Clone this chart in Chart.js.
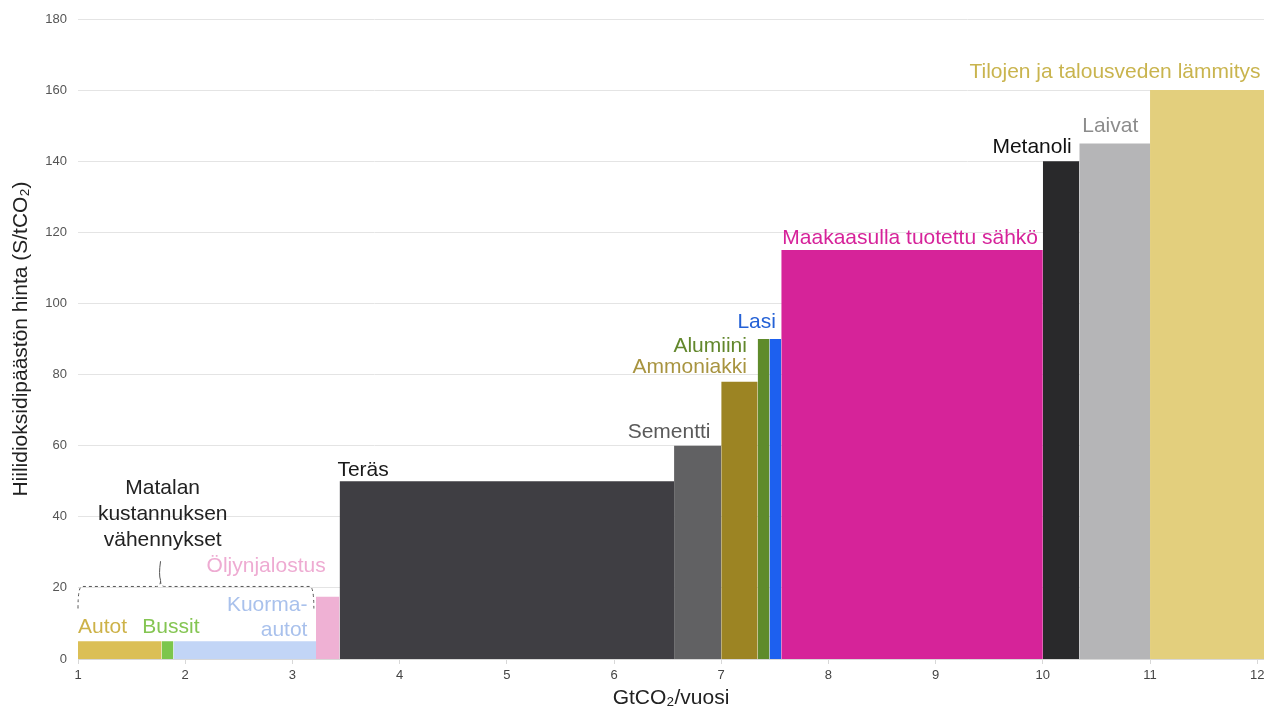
<!DOCTYPE html>
<html>
<head>
<meta charset="utf-8">
<script src="https://cdn.jsdelivr.net/npm/chart.js"></script>
<style>
  html, body { margin: 0; padding: 0; background: #fff; }
  #wrap { width: 1264px; height: 711px; }
</style>
</head>
<body>
<div id="wrap"><canvas id="chart" width="1264" height="711"></canvas></div>
<script>
// sectors, left to right
const categories = ['Autot', 'Bussit', 'Kuorma-autot', 'Öljynjalostus', 'Teräs', 'Sementti', 'Ammoniakki',
  'Alumiini', 'Lasi', 'Maakaasulla tuotettu sähkö', 'Metanoli', 'Laivat', 'Tilojen ja talousveden lämmitys'];
// cumulative GtCO2/vuosi: start of the curve and right edge of each block
const curveStart = 1;
const blockEnds = [1.78, 1.89, 3.22, 3.44, 6.56, 7.0, 7.34, 7.45, 7.56, 10.0, 10.34, 11.0, 12.1];
// price $/tCO2
const prices = [5, 5, 5, 17.5, 50, 60, 78, 90, 90, 115, 140, 145, 160];

const barColors = ['#dbbf56', '#7cc64b', '#c2d5f6', '#efb1d4', '#3f3e43', '#616163', '#9c8423',
  '#5f8b2b', '#1d60ef', '#d62399', '#29292b', '#b5b5b7', '#e3cf7d'];
const textColors = ['#cdb248', '#84c552', '#a9c1ec', '#eeabd2', '#1a1a1a', '#5a5a5a', '#a89440',
  '#62872c', '#2461d6', '#d6239a', '#111111', '#8c8c8c', '#c9b44e'];

// label placement in axis units: [lines, x, y, align]
const labelPlacement = [
  [['Autot'], 1.0, 9, 'left'],
  [['Bussit'], 1.6, 9, 'left'],
  [['Kuorma-', 'autot'], 3.14, [15, 8.2], 'right'],
  [['Öljynjalostus'], 3.31, 26.2, 'right'],
  [['Teräs'], 3.42, 53.2, 'left'],
  [['Sementti'], 6.9, 63.8, 'right'],
  [['Ammoniakki'], 7.24, 82.1, 'right'],
  [['Alumiini'], 7.24, 88.0, 'right'],
  [['Lasi'], 7.51, 94.8, 'right'],
  [['Maakaasulla tuotettu sähkö'], 7.57, 118.4, 'left'],
  [['Metanoli'], 10.27, 144, 'right'],
  [['Laivat'], 10.89, 149.9, 'right'],
  [['Tilojen ja talousveden lämmitys'], 12.03, 165.1, 'right']
];

const FONT = "'Liberation Sans', Arial, sans-serif";

const datasets = categories.map((name, i) => {
  const x0 = i === 0 ? curveStart : blockEnds[i - 1];
  const x1 = blockEnds[i];
  const h = prices[i];
  return {
    label: name,
    data: [{ x: x0, y: 0 }, { x: x0, y: h }, { x: x1, y: h }, { x: x1, y: 0 }],
    borderWidth: 0,
    borderColor: barColors[i],
    backgroundColor: barColors[i],
    fill: 'origin',
    pointRadius: 0,
    tension: 0
  };
});

const labelsPlugin = {
  id: 'blockLabels',
  afterDatasetsDraw(chart) {
    const { ctx, scales: { x, y } } = chart;
    ctx.save();
    ctx.font = '21px ' + FONT;
    ctx.textBaseline = 'middle';
    labelPlacement.forEach(([lines, lx, ly, align], i) => {
      ctx.fillStyle = textColors[i];
      ctx.textAlign = align;
      lines.forEach((t, k) => {
        const yy = Array.isArray(ly) ? ly[k] : ly;
        ctx.fillText(t, x.getPixelForValue(lx), y.getPixelForValue(yy));
      });
    });

    // group note + dashed bracket over the low cost blocks
    ctx.fillStyle = '#222';
    ctx.textAlign = 'center';
    const cx = x.getPixelForValue(1.79);
    [['Matalan', 48.1], ['kustannuksen', 40.8], ['vähennykset', 33.5]].forEach(([t, v]) => {
      ctx.fillText(t, cx, y.getPixelForValue(v));
    });
    const bl = x.getPixelForValue(1.0), br = x.getPixelForValue(3.2);
    const bTop = y.getPixelForValue(20.4), bBot = y.getPixelForValue(14.2);
    const bx = x.getPixelForValue(1.77), bNotch = y.getPixelForValue(27.5);
    ctx.strokeStyle = '#555';
    ctx.lineWidth = 1;
    ctx.setLineDash([3, 3]);
    ctx.beginPath();
    ctx.moveTo(bl, bBot);
    ctx.quadraticCurveTo(bl, bTop, bl + 4, bTop);
    ctx.lineTo(bx - 4, bTop);
    ctx.quadraticCurveTo(bx, bTop, bx, bTop - 6);
    ctx.moveTo(bx, bTop - 6);
    ctx.quadraticCurveTo(bx, bTop, bx + 4, bTop);
    ctx.lineTo(br - 4, bTop);
    ctx.quadraticCurveTo(br, bTop, br, bBot);
    ctx.stroke();
    ctx.setLineDash([]);
    ctx.beginPath();
    ctx.moveTo(bx, bTop - 6);
    ctx.quadraticCurveTo(bx - 2, bTop - 12, bx, bNotch);
    ctx.stroke();
    ctx.restore();
  }
};

new Chart(document.getElementById('chart'), {
  type: 'line',
  data: { datasets },
  options: {
    responsive: false,
    animation: false,
    layout: { padding: { top: 19, right: 0, bottom: 0, left: 0 } },
    plugins: { legend: { display: false }, tooltip: { enabled: false } },
    scales: {
      x: {
        type: 'linear',
        min: 1,
        max: 12.063,
        ticks: { stepSize: 1, includeBounds: false, color: '#444', padding: 4, font: { family: FONT, size: 13 } },
        grid: { drawOnChartArea: false, drawTicks: true, tickLength: 5, color: '#d8d8d8' },
        border: { color: '#d8d8d8' },
        title: { display: true, text: 'GtCO₂/vuosi', color: '#222', font: { family: FONT, size: 21 }, padding: { top: 0, bottom: 0 } },
        afterFit(s) { s.height = 52; s.paddingLeft = 0; s.paddingRight = 0; }
      },
      y: {
        min: 0,
        max: 180,
        ticks: { stepSize: 20, color: '#555', padding: 11, font: { family: FONT, size: 13 } },
        grid: { color: '#e4e4e4', drawTicks: false },
        border: { display: false },
        title: { display: true, text: 'Hiilidioksidipäästön hinta (S/tCO₂)', color: '#222', font: { family: FONT, size: 21 }, padding: { top: 9, bottom: 0 } },
        afterFit(s) { s.width = 78; s.paddingTop = 0; s.paddingBottom = 0; }
      }
    }
  },
  plugins: [labelsPlugin]
});
</script>
</body>
</html>
